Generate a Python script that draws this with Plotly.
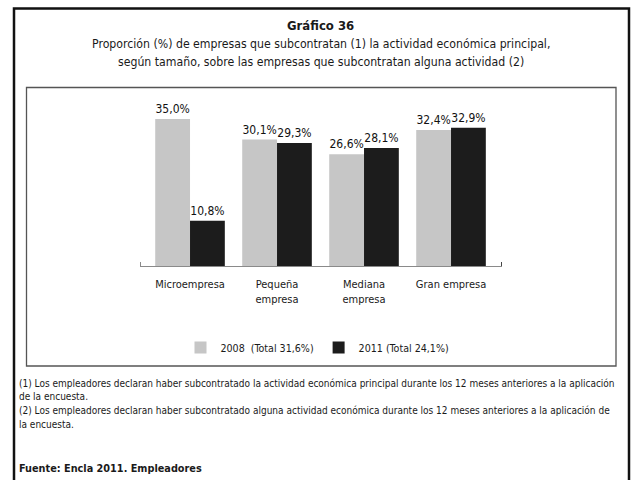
import plotly.graph_objects as go

# Company sizes and shares (%) of firms subcontracting their main activity
categories = ["Microempresa", "Pequeña<br>empresa", "Mediana<br>empresa", "Gran empresa"]
values_2008 = [35.0, 30.1, 26.6, 32.4]
values_2011 = [10.8, 29.3, 28.1, 32.9]
series_names = ["2008  (Total 31,6%)", "2011 (Total 24,1%)"]

FONT = "DejaVu Sans Condensed, Liberation Sans Narrow, Arial Narrow, sans-serif"
W, H = 635, 480

x_pos = list(range(len(categories)))

fig = go.Figure()
fig.add_trace(go.Bar(
    x=x_pos, y=values_2008, name=series_names[0],
    marker=dict(color="#c6c6c6", line=dict(width=0)),
    texttemplate="%{y:.1f}%", textposition="outside",
    textfont=dict(family=FONT, size=12, color="#111111"),
    cliponaxis=False,
))
fig.add_trace(go.Bar(
    x=x_pos, y=values_2011, name=series_names[1],
    marker=dict(color="#1c1c1c", line=dict(width=0)),
    texttemplate="%{y:.1f}%", textposition="outside",
    textfont=dict(family=FONT, size=12, color="#111111"),
    cliponaxis=False,
))

def px(x):
    return x / W

def py(y):
    return 1 - y / H

fig.update_layout(
    width=W, height=H,
    margin=dict(l=0, r=0, t=0, b=0),
    paper_bgcolor="white", plot_bgcolor="white",
    separators=",.",
    barmode="group", bargap=0.2, bargroupgap=0,
    font=dict(family=FONT, size=11, color="#1a1a1a"),
    showlegend=True,
    legend=dict(
        orientation="h", x=0.5, xanchor="center", y=py(333), yanchor="top",
        font=dict(family=FONT, size=10.6, color="#1a1a1a"),
        itemwidth=30, tracegroupgap=0,
        bgcolor="rgba(0,0,0,0)",
    ),
    xaxis=dict(
        domain=[px(140), px(502)],
        range=[-0.575, 3.586],
        tickvals=x_pos, ticktext=categories,
        showline=True, linecolor="#8a8a8a", linewidth=1.2,
        showgrid=False, zeroline=False, ticks="",
        ticklabelstandoff=8,
        tickfont=dict(family=FONT, size=11, color="#1a1a1a"),
        fixedrange=True,
    ),
    yaxis=dict(
        domain=[py(266), py(100)],
        range=[0, (266 - 100) / 4.2],
        visible=False, showgrid=False, zeroline=False,
        fixedrange=True,
    ),
)

shapes = [
    # outer frame
    dict(type="rect", xref="paper", yref="paper",
         x0=px(14), x1=px(629), y0=py(490), y1=py(8.5),
         line=dict(color="#111111", width=2.5)),
    # inner chart frame
    dict(type="rect", xref="paper", yref="paper",
         x0=px(26.5), x1=px(616), y0=py(366), y1=py(87.5),
         line=dict(color="#555555", width=1.3)),
    # small end ticks on the baseline
    dict(type="line", xref="paper", yref="paper",
         x0=px(140.5), x1=px(140.5), y0=py(266), y1=py(262),
         line=dict(color="#8a8a8a", width=1)),
    dict(type="line", xref="paper", yref="paper",
         x0=px(501.5), x1=px(501.5), y0=py(266), y1=py(262),
         line=dict(color="#444444", width=1)),
]
fig.update_layout(shapes=shapes)

annotations = [
    dict(text="<b>Gráfico 36</b>", x=px(320), y=py(25), font=dict(size=13)),
    dict(text="Proporción (%) de empresas que subcontratan (1) la actividad económica principal,",
         x=px(321), y=py(44), font=dict(size=12.2)),
    dict(text="según tamaño, sobre las empresas que subcontratan alguna actividad (2)",
         x=px(321), y=py(62), font=dict(size=12.2)),
]
notes = [
    ("(1) Los empleadores declaran haber subcontratado la actividad económica principal durante los 12 meses anteriores a la aplicación", 383),
    ("de la encuesta.", 396),
    ("(2) Los empleadores declaran haber subcontratado alguna actividad económica durante los 12 meses anteriores a la aplicación de", 410),
    ("la encuesta.", 424),
]
for txt, yy in notes:
    annotations.append(dict(text=txt, x=px(17), y=py(yy), xanchor="left",
                            font=dict(size=10.0)))
annotations.append(dict(text="<b>Fuente: Encla 2011. Empleadores</b>", x=px(17), y=py(468),
                        xanchor="left", font=dict(size=10.8)))

for a in annotations:
    a.setdefault("xanchor", "center")
    a.update(xref="paper", yref="paper", yanchor="middle", showarrow=False)
    a["font"] = dict(family=FONT, color="#1a1a1a", **a["font"])
fig.update_layout(annotations=annotations)

fig.write_html("out.html")
